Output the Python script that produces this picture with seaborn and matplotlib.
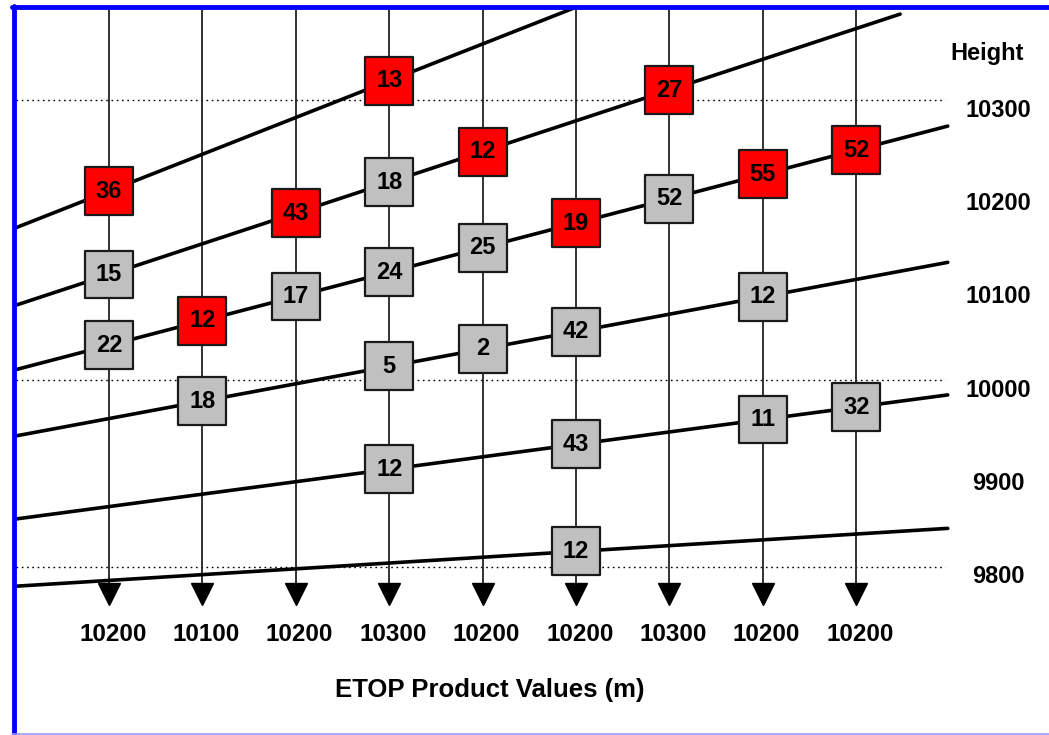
import numpy as np
import pandas as pd
import seaborn as sns
import matplotlib.pyplot as plt

## chart values
col_labels = ["10200", "10100", "10200", "10300", "10200", "10200", "10300", "10200", "10200"]
height_ticks = [10300, 10200, 10100, 10000, 9900, 9800]
dotted_heights = [10300, 10000, 9800]

# sloped height lines: x at each end (column units) and height at each end (m)
line_x0 = [-1.0, -1.0, -1.0, -1.0, -1.0, -1.0]
line_x1 = [4.99, 8.47, 8.98, 8.98, 8.98, 8.98]
line_h0 = [10163, 10080, 10011, 9940, 9851, 9779]
line_h1 = [10399, 10392, 10272, 10126, 9984, 9841]

# boxes: which column, which sloped line, the count and the flag
box_col = [0, 3,
           0, 2, 3, 4, 6,
           0, 1, 2, 3, 4, 5, 6, 7, 8,
           1, 3, 4, 5, 7,
           3, 5, 7, 8,
           5]
box_line = [0, 0,
            1, 1, 1, 1, 1,
            2, 2, 2, 2, 2, 2, 2, 2, 2,
            3, 3, 3, 3, 3,
            4, 4, 4, 4,
            5]
box_value = [36, 13,
             15, 43, 18, 12, 27,
             22, 12, 17, 24, 25, 19, 52, 55, 52,
             18, 5, 2, 42, 12,
             12, 43, 11, 32,
             12]
box_flag = ["red", "red",
            "grey", "red", "grey", "red", "red",
            "grey", "red", "grey", "grey", "grey", "red", "grey", "red", "red",
            "grey", "grey", "grey", "grey", "grey",
            "grey", "grey", "grey", "grey",
            "grey"]

## build frames
lines = pd.DataFrame({
    "line": list(range(6)) * 2,
    "x": line_x0 + line_x1,
    "h": line_h0 + line_h1,
})

boxes = pd.DataFrame({"col": box_col, "line": box_line, "value": box_value, "flag": box_flag})
slope = (np.array(line_h1) - np.array(line_h0)) / (np.array(line_x1) - np.array(line_x0))
boxes["h"] = np.array(line_h0)[boxes["line"]] + slope[boxes["line"]] * (boxes["col"] - np.array(line_x0)[boxes["line"]])

## plot
sns.set_theme(style="white")
plt.rcParams["font.family"] = ["Liberation Sans", "DejaVu Sans"]
plt.rcParams["font.weight"] = "bold"
plt.rcParams["text.color"] = "black"

fig = plt.figure(figsize=(10.49, 7.35), dpi=100)
ax = fig.add_axes([0, 0, 1, 1])
ax.set_xlim(-109 / 93.4, (1049 - 109) / 93.4)
ax.set_ylim(9619.6, 10407.1)
ax.axis("off")

# dotted reference heights
for h in dotted_heights:
    ax.plot([-1.0, 8.95], [h, h], color="black", lw=1, ls=(0, (1.2, 2.6)), zorder=1)

# vertical columns with arrows
cols = np.arange(len(col_labels))
ax.vlines(cols, 9775, 10396, color="#222222", lw=1.3, zorder=2)
ax.plot(cols, [9771] * len(cols), ls="none", marker="v", ms=16, color="black", zorder=2)

# sloped lines
sns.lineplot(data=lines, x="x", y="h", units="line", estimator=None,
             color="black", lw=2.6, ax=ax, zorder=3, legend=False)

# boxes
sns.scatterplot(data=boxes, x="col", y="h", hue="flag", marker="s", s=1190,
                palette={"red": "#ff0000", "grey": "#c0c0c0"},
                edgecolor="#1a1a1a", linewidth=1.6, ax=ax, zorder=4, legend=False)
for _, r in boxes.iterrows():
    ax.text(r["col"], r["h"], str(r["value"]), ha="center", va="center",
            fontsize=17, fontweight="bold", color="black", zorder=5)

# right-hand height labels
ax.text(9.40, 10350, "Height", ha="center", va="center", fontsize=17, fontweight="bold")
for h in height_ticks:
    ax.text(9.52, h - 11, str(h), ha="center", va="center", fontsize=17, fontweight="bold")

# bottom labels
for c, lab in zip(cols, col_labels):
    ax.text(c + 0.04, 9727, lab, ha="center", va="center", fontsize=17.5, fontweight="bold")
ax.text(4.08, 9668, "ETOP Product Values (m)", ha="center", va="center",
        fontsize=18.5, fontweight="bold")

# blue frame
fig.add_artist(plt.Line2D([14 / 1049, 14 / 1049], [0, 1 - 6 / 735], color="#0000ff", lw=3.5))
fig.add_artist(plt.Line2D([12 / 1049, 1], [1 - 7 / 735, 1 - 7 / 735], color="#0000ff", lw=3.5))
fig.add_artist(plt.Line2D([12 / 1049, 1], [1.5 / 735, 1.5 / 735], color="#9999ff", lw=1.2))

fig.savefig("out.png", dpi=100)
